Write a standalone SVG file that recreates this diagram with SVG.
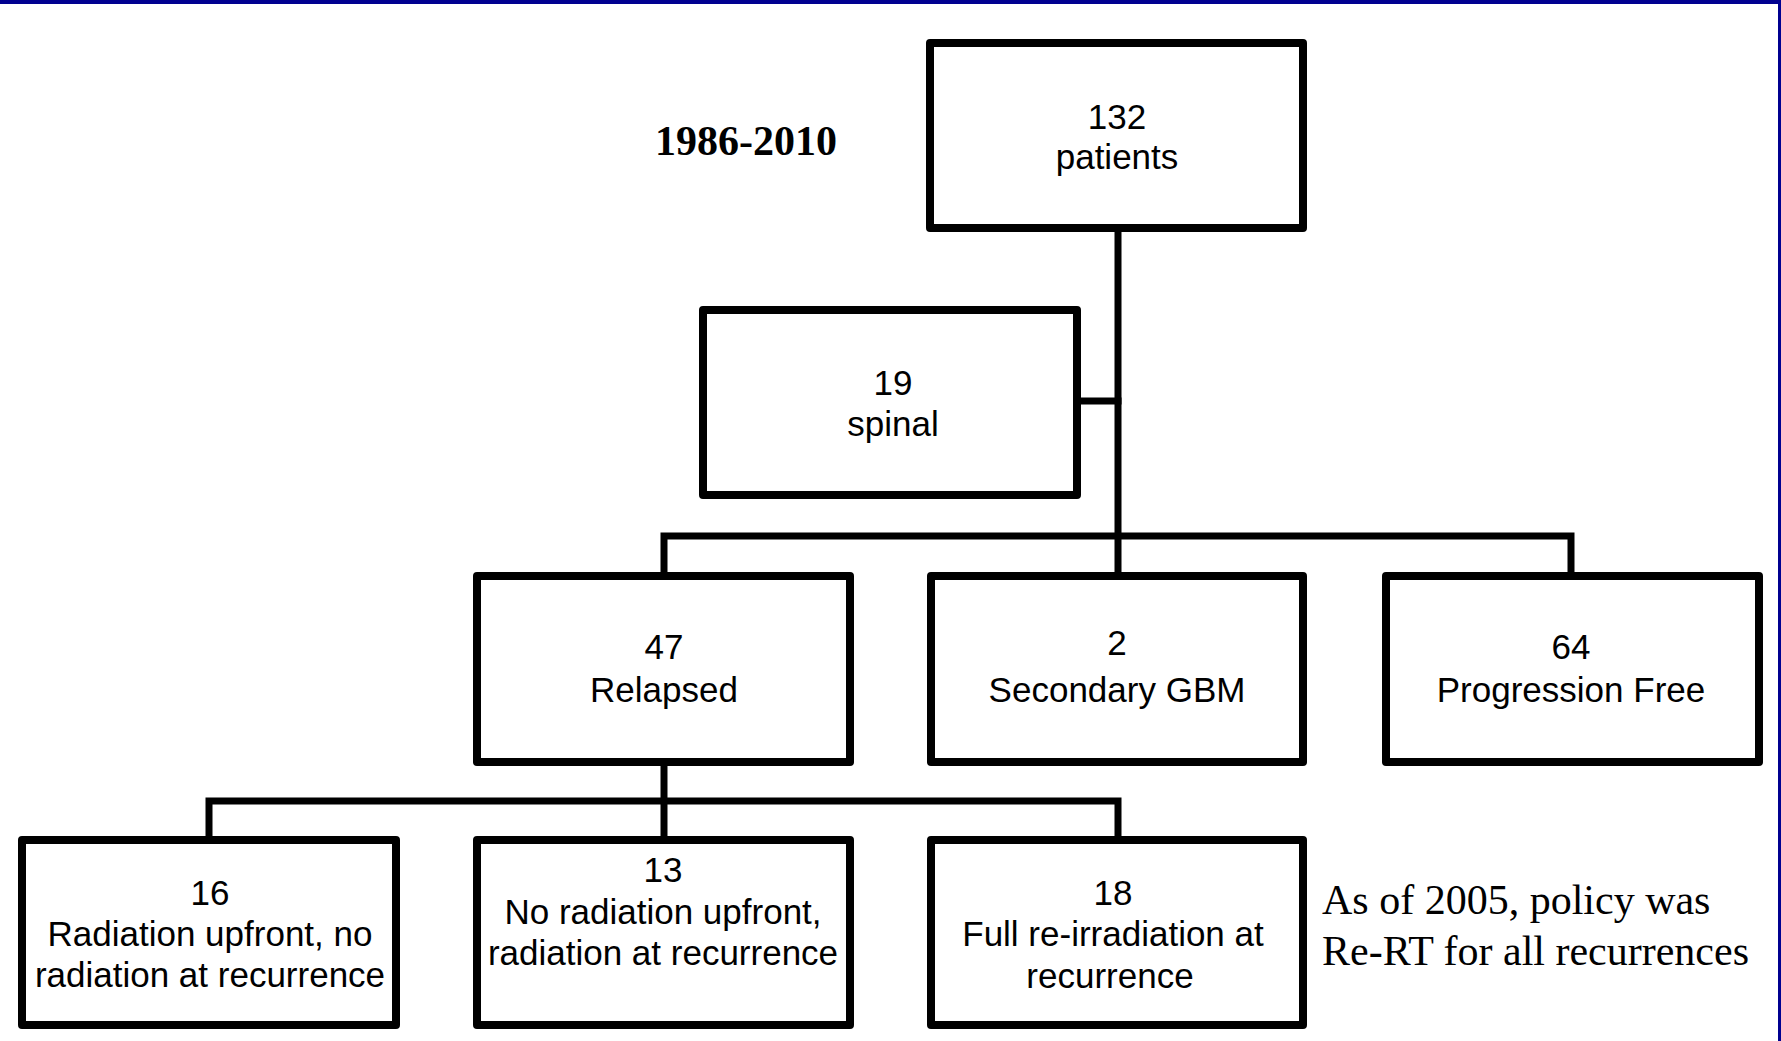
<svg xmlns="http://www.w3.org/2000/svg" width="1781" height="1041" viewBox="0 0 1781 1041">
<style>
.box{fill:#fff;stroke:#000;stroke-width:8;stroke-linejoin:round}
.con{fill:none;stroke:#000;stroke-width:7;stroke-linejoin:miter;stroke-linecap:square}
.t{font-family:"Liberation Sans",Arial,sans-serif;font-size:35px;fill:#000;text-anchor:middle}
.s{font-family:"Liberation Serif","Times New Roman",serif;font-size:42px;fill:#000}
</style>
<rect x="0" y="0" width="1781" height="1041" fill="#fff"/>
<rect x="0" y="0" width="1781" height="4" fill="#000090"/>
<rect x="1778" y="0" width="3" height="1041" fill="#000090"/>
<g id="connectors">
<path class="con" d="M1118 230 V574"/>
<path class="con" d="M1079 401 H1118"/>
<path class="con" d="M664 574 V536 H1571 V574"/>
<path class="con" d="M664 764 V838"/>
<path class="con" d="M209 838 V801 H1118 V838"/>
</g>
<g id="title"><text class="s" x="746" y="155" text-anchor="middle" font-weight="bold">1986-2010</text></g>
<g id="n132">
<rect class="box" x="930" y="43" width="373" height="185"/>
<text class="t" x="1117" y="129">132</text>
<text class="t" x="1117" y="169">patients</text>
</g>
<g id="n19">
<rect class="box" x="703" y="310" width="374" height="185"/>
<text class="t" x="893" y="395">19</text>
<text class="t" x="893" y="436">spinal</text>
</g>
<g id="n47">
<rect class="box" x="477" y="576" width="373" height="186"/>
<text class="t" x="664" y="659">47</text>
<text class="t" x="664" y="702">Relapsed</text>
</g>
<g id="n2">
<rect class="box" x="931" y="576" width="372" height="186"/>
<text class="t" x="1117" y="655">2</text>
<text class="t" x="1117" y="702">Secondary GBM</text>
</g>
<g id="n64">
<rect class="box" x="1386" y="576" width="373" height="186"/>
<text class="t" x="1571" y="659">64</text>
<text class="t" x="1571" y="702">Progression Free</text>
</g>
<g id="n16">
<rect class="box" x="22" y="840" width="374" height="185"/>
<text class="t" x="210" y="905">16</text>
<text class="t" x="210" y="946">Radiation upfront, no</text>
<text class="t" x="210" y="987">radiation at recurrence</text>
</g>
<g id="n13">
<rect class="box" x="477" y="840" width="373" height="185"/>
<text class="t" x="663" y="882">13</text>
<text class="t" x="663" y="924">No radiation upfront,</text>
<text class="t" x="663" y="965">radiation at recurrence</text>
</g>
<g id="n18">
<rect class="box" x="931" y="840" width="372" height="185"/>
<text class="t" x="1113" y="905">18</text>
<text class="t" x="1113" y="946">Full re-irradiation at</text>
<text class="t" x="1110" y="988">recurrence</text>
</g>
<g id="note">
<text class="s" x="1322" y="914">As of 2005, policy was</text>
<text class="s" x="1322" y="965">Re-RT for all recurrences</text>
</g>
</svg>
